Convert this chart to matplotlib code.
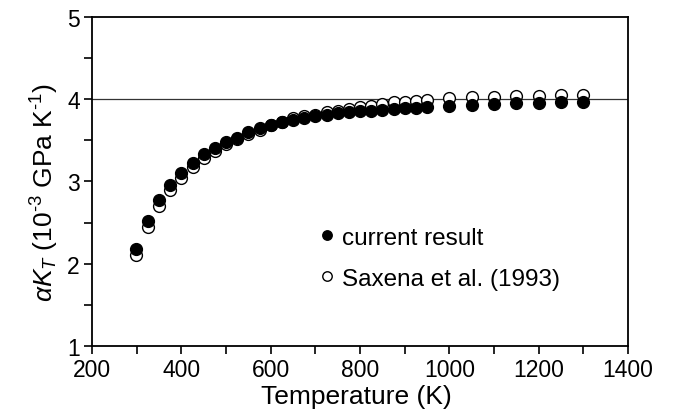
import numpy as np
import matplotlib.pyplot as plt
from matplotlib.ticker import MultipleLocator

plt.rcParams['font.family'] = ['Liberation Sans', 'DejaVu Sans']
plt.rcParams['mathtext.fontset'] = 'custom'
plt.rcParams['mathtext.rm'] = 'Liberation Sans'
plt.rcParams['mathtext.it'] = 'Liberation Sans:italic'

# temperatures (K)
temp = [298, 325, 350, 375, 400, 425, 450, 475, 500, 525, 550, 575, 600, 625,
        650, 675, 700, 725, 750, 775, 800, 825, 850, 875, 900, 925, 950,
        1000, 1050, 1100, 1150, 1200, 1250, 1300]

# alpha*K_T, this work (filled)
current = [2.18, 2.52, 2.77, 2.96, 3.10, 3.22, 3.33, 3.41, 3.48, 3.53, 3.60, 3.65, 3.69, 3.72,
           3.75, 3.77, 3.79, 3.81, 3.83, 3.84, 3.85, 3.86, 3.87, 3.88, 3.89, 3.89, 3.90,
           3.92, 3.93, 3.94, 3.95, 3.95, 3.96, 3.97]

# Saxena et al. (1993) (open)
saxena = [2.11, 2.45, 2.70, 2.89, 3.04, 3.17, 3.28, 3.37, 3.45, 3.52, 3.58, 3.63, 3.68, 3.72,
          3.77, 3.79, 3.81, 3.84, 3.86, 3.88, 3.90, 3.92, 3.94, 3.96, 3.97, 3.98, 3.99,
          4.01, 4.02, 4.03, 4.04, 4.04, 4.05, 4.05]

fig = plt.figure(figsize=(6.73, 4.14), dpi=100)
ax = fig.add_axes([0.137, 0.162, 0.796, 0.795])

ax.axhline(4, color='#333333', linewidth=0.9, zorder=1)
ax.plot(temp, saxena, 'o', markersize=8.5, markerfacecolor='white', markeredgecolor='black',
        markeredgewidth=1.0, label='Saxena et al. (1993)', zorder=2)
ax.plot(temp, current, 'o', markersize=8.5, markerfacecolor='black', markeredgecolor='black',
        label='current result', zorder=3)

ax.set_xlim(200, 1400)
ax.set_ylim(1, 5)
ax.xaxis.set_major_locator(MultipleLocator(200))
ax.xaxis.set_minor_locator(MultipleLocator(100))
ax.yaxis.set_major_locator(MultipleLocator(1))
ax.yaxis.set_minor_locator(MultipleLocator(0.5))
ax.tick_params(which='both', direction='out', labelsize=16.5, width=1.2, length=6, pad=3)
for s in ax.spines.values():
    s.set_linewidth(1.3)

ax.set_xlabel('Temperature (K)', fontsize=19, va='top')
ax.xaxis.set_label_coords(0.494, -0.115)
ax.set_ylabel(r'$\alpha K_T$ (10$^{\mathrm{‐3}}$ GPa K$^{\mathrm{‐1}}$)', fontsize=19)
ax.yaxis.set_label_coords(-0.058, 0.47)

h, l = ax.get_legend_handles_labels()
ax.legend(h[::-1], l[::-1], loc='upper left', bbox_to_anchor=(0.425, 0.362), frameon=False,
          fontsize=17.5, markerscale=0.8, handlelength=0.6, handletextpad=0.3, labelspacing=0.78,
          borderpad=0, borderaxespad=0)

plt.savefig('out.png', dpi=100)
